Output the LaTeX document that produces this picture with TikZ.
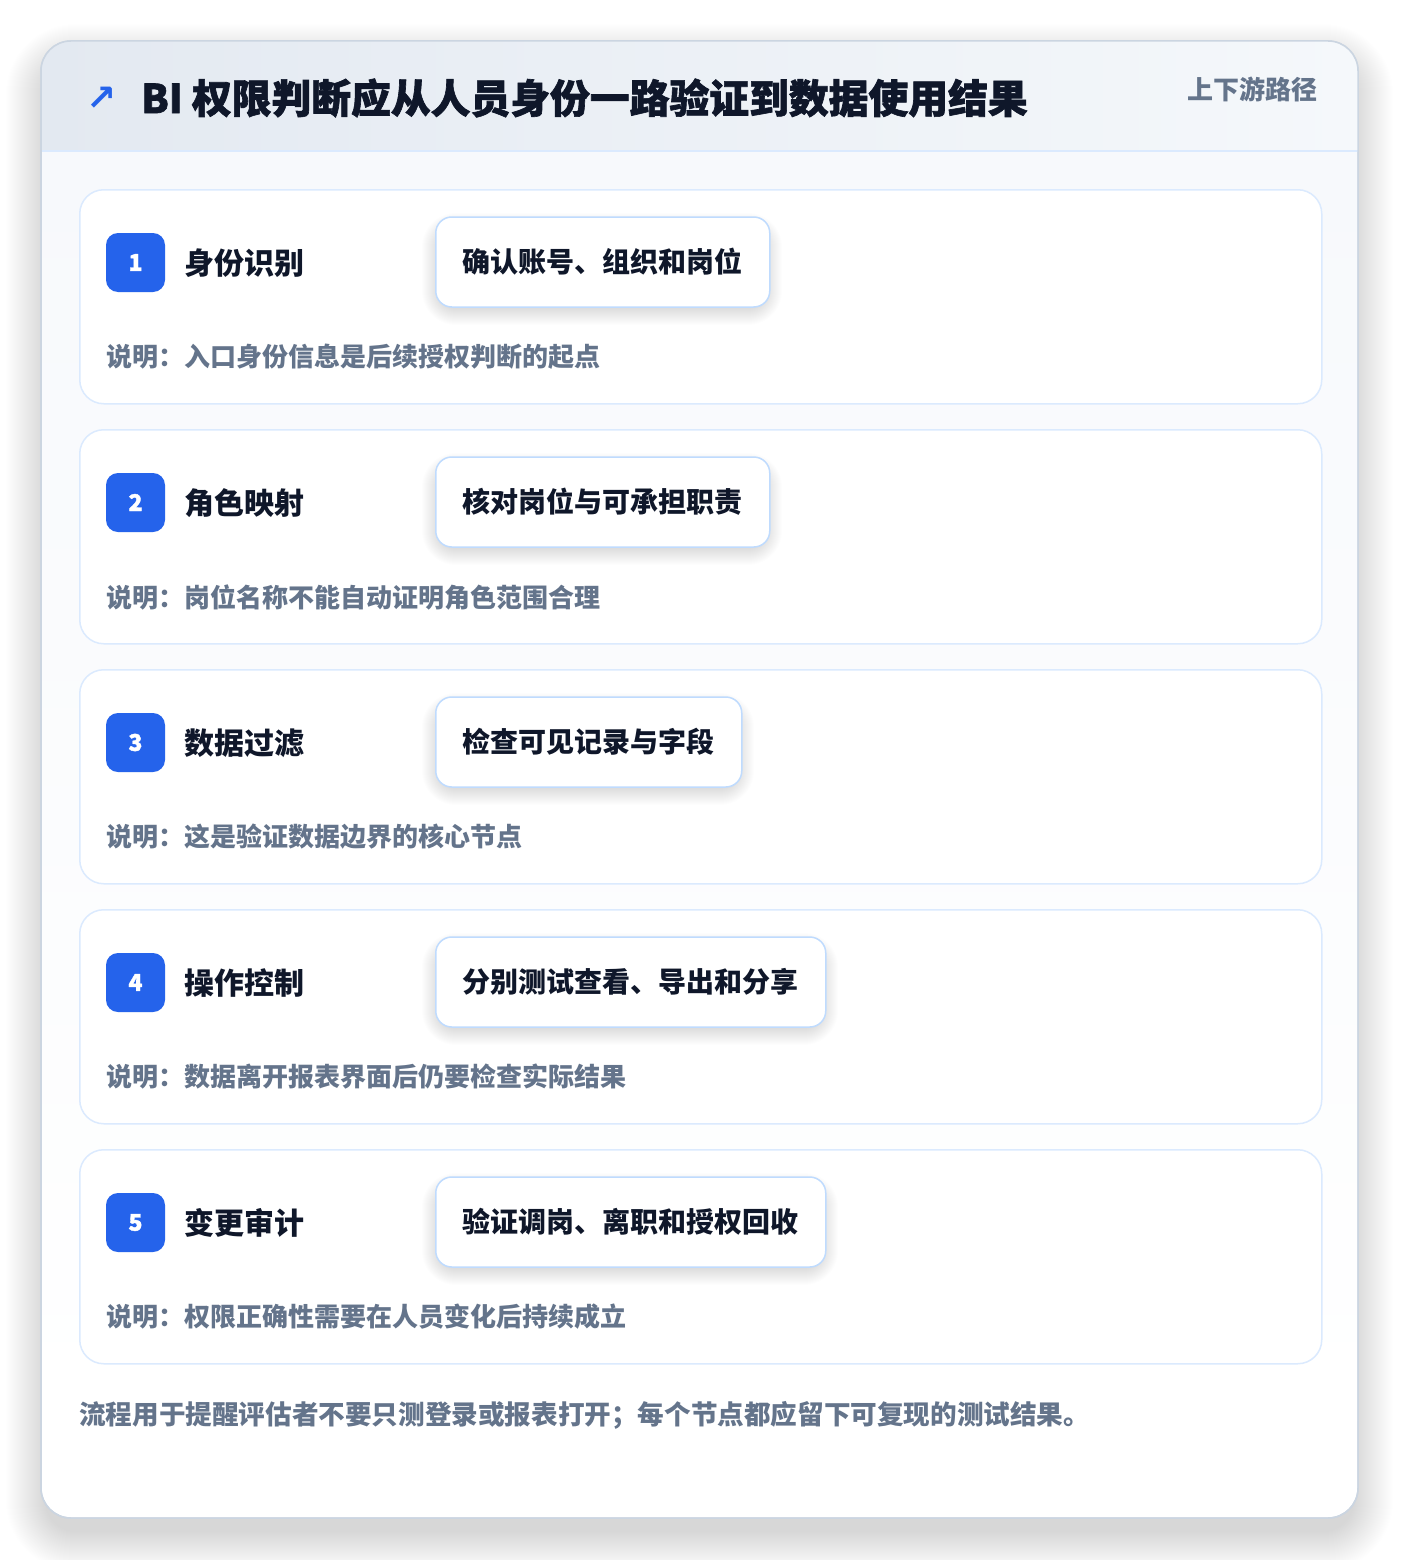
\documentclass[tikz,border=0pt]{standalone}
\usepackage{fontspec}
\setmainfont{Noto Sans CJK SC}
\newfontfamily\heavy{Noto Sans CJK SC}[BoldFeatures={FakeBold=1.6}]
\newfontfamily\symfont{DejaVu Sans}
\definecolor{ink}{HTML}{0F172A}
\definecolor{muted}{HTML}{64748B}
\definecolor{brand}{HTML}{2563EB}
\definecolor{outerline}{HTML}{CBD5E1}
\definecolor{cardline}{HTML}{DBEAFE}
\definecolor{pillline}{HTML}{BFDBFE}
\definecolor{hdrL}{HTML}{E3E9F1}
\definecolor{hdrR}{HTML}{F5F8FB}
\definecolor{bodybg}{HTML}{F7F9FC}
\newcommand\mysoftshadow[8]{%
  \foreach \k in {1,...,#7}{%
    \pgfmathsetmacro\rr{#5+\k}%
    \fill[black, opacity=#8, rounded corners=\rr pt] (#1-\k,#2-\k+#6) rectangle (#3+\k,#4+\k+#6);
  }}
\tikzset{
  outercard/.style={draw=outerline, line width=1.5pt, rounded corners=30pt},
  stepcard/.style={draw=cardline, line width=1.5pt, fill=white, rounded corners=24pt,
    minimum width=1242pt, minimum height=214pt, anchor=north west, inner sep=0pt},
  badge/.style={fill=brand, rounded corners=12pt, minimum size=59pt, inner sep=0pt,
    text=white, font=\heavy\bfseries\fontsize{23}{26}\selectfont},
  steptitle/.style={anchor=west, inner sep=0pt, text=ink, font=\bfseries\fontsize{30}{36}\selectfont},
  pill/.style={anchor=west, draw=pillline, line width=1.5pt, fill=white, rounded corners=16pt,
    minimum height=90pt, inner xsep=0pt, inner ysep=0pt, text=ink,
    font=\bfseries\fontsize{28}{34}\selectfont},
  notetext/.style={anchor=west, inner sep=0pt, text=muted, font=\bfseries\fontsize{26}{32}\selectfont},
}
\begin{document}
\begin{tikzpicture}[x=1pt,y=-1pt]
\useasboundingbox (0,0) rectangle (1400,1560);
\fill[white] (0,0) rectangle (1400,1560);
% outer card shadow
\mysoftshadow{46}{46}{1353}{1513}{30}{18}{40}{0.0022}
% outer card
\path[outercard, fill=white] (41,41) rectangle (1358,1518);
% body tint
\shade[top color=bodybg, bottom color=white] (42,152) rectangle (1357,1420);
% header band
\shade[left color=hdrL, right color=hdrR] (41,151) [rounded corners=30pt] -- (41,41) -- (1358,41) [sharp corners] -- (1358,151) -- cycle;
\draw[cardline, line width=1.5pt] (41,151) -- (1358,151);
\draw[outercard] (41,41) rectangle (1358,1518);
% header text
\node (icon) [inner sep=0pt, text=brand, font=\symfont\bfseries\fontsize{36}{40}\selectfont] at (102,99) {↗};
\node (title) [anchor=west, inner sep=0pt, text=ink, font=\heavy\bfseries\fontsize{39.8}{46}\selectfont] at (141,98) {BI 权限判断应从人员身份一路验证到数据使用结果};
\node (tag) [anchor=east, inner sep=0pt, text=muted, font=\bfseries\fontsize{26}{32}\selectfont] at (1318,89) {上下游路径};
% steps
\foreach \i/\t/\p/\n/\w in {
  1/身份识别/确认账号、组织和岗位/说明：入口身份信息是后续授权判断的起点/334,
  2/角色映射/核对岗位与可承担职责/说明：岗位名称不能自动证明角色范围合理/334,
  3/数据过滤/检查可见记录与字段/说明：这是验证数据边界的核心节点/306,
  4/操作控制/分别测试查看、导出和分享/说明：数据离开报表界面后仍要检查实际结果/390,
  5/变更审计/验证调岗、离职和授权回收/说明：权限正确性需要在人员变化后持续成立/390}{
  \pgfmathsetmacro{\yy}{189+240*(\i-1)}
  \node (card\i) [stepcard] at (79,\yy) {};
  \node (badge\i) [badge] at (135.5,\yy+73.5) {\i};
  \node (title\i) [steptitle] at (184,\yy+74) {\t};
  \mysoftshadow{440}{\yy+36}{430+\w}{\yy+112}{16}{6}{18}{0.006}
  \node (pill\i) [pill, minimum width=\w pt] at (435,\yy+73) {\p};
  \node (note\i) [notetext] at (106,\yy+168) {\n};
}
% footer
\node (footer) [anchor=west, inner sep=0pt, text=muted, font=\bfseries\fontsize{26.6}{32}\selectfont] at (79,1415) {流程用于提醒评估者不要只测登录或报表打开；每个节点都应留下可复现的测试结果。};
\end{tikzpicture}
\end{document}
